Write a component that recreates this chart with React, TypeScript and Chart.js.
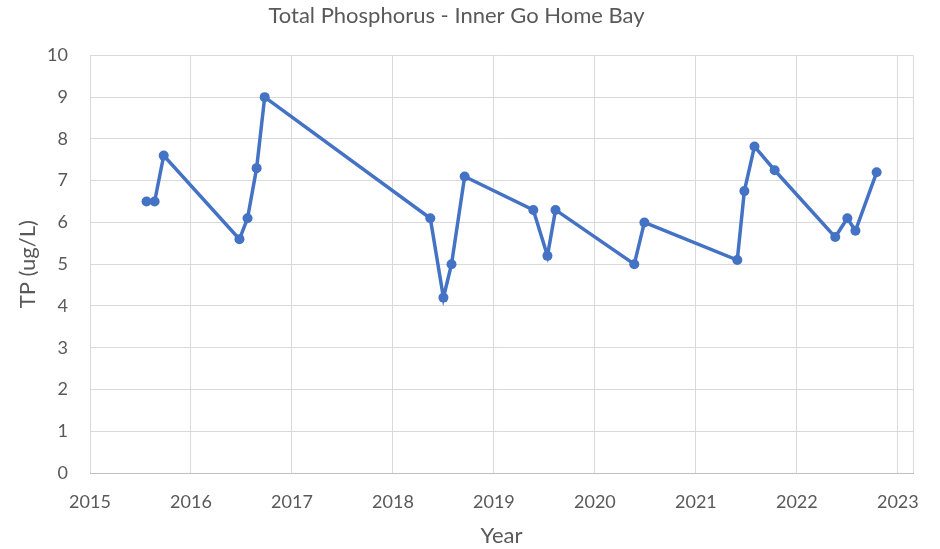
import React, { useEffect, useRef } from "react";
import { Chart, registerables } from "chart.js";

Chart.register(...registerables);

const years: number[] = [
  2015.56, 2015.64, 2015.73, 2016.48, 2016.56, 2016.65, 2016.73,
  2018.37, 2018.50, 2018.58, 2018.71, 2019.39, 2019.53, 2019.61,
  2020.39, 2020.49, 2021.41, 2021.48, 2021.58, 2021.78,
  2022.38, 2022.50, 2022.58, 2022.79,
];
const tpValues: number[] = [
  6.5, 6.5, 7.6, 5.6, 6.1, 7.3, 9.0,
  6.1, 4.2, 5.0, 7.1, 6.3, 5.2, 6.3,
  5.0, 6.0, 5.1, 6.75, 7.82, 7.25,
  5.65, 6.1, 5.8, 7.2,
];
const titleText = "Total Phosphorus - Inner Go Home Bay";
const xTitle = "Year";
const yTitle = "TP (ug/L)";
const xMin = 2015;
const xMax = 2023.15;
const yMin = 0;
const yMax = 10;

const FONT = "Lato, 'Open Sans', sans-serif";
const TEXT = "#595959";
const GRID = "#d9d9d9";
const LINE = "#4472C4";

const borderPlugin = {
  id: "plotBorder",
  afterDraw(chart: any) {
    const { ctx, chartArea } = chart;
    ctx.save();
    ctx.strokeStyle = GRID;
    ctx.lineWidth = 1;
    ctx.beginPath();
    ctx.moveTo(chartArea.right + 0.5, chartArea.top);
    ctx.lineTo(chartArea.right + 0.5, chartArea.bottom);
    ctx.stroke();
    ctx.strokeStyle = "#bfbfbf";
    ctx.beginPath();
    ctx.moveTo(chartArea.left, chartArea.bottom + 0.5);
    ctx.lineTo(chartArea.right + 1, chartArea.bottom + 0.5);
    ctx.stroke();
    ctx.restore();
  },
};

export default function App() {
  const ref = useRef<HTMLCanvasElement | null>(null);
  useEffect(() => {
    document.body.style.margin = "0";
    const data = years.map((x, i) => ({ x, y: tpValues[i] }));
    const chart = new Chart(ref.current!, {
      type: "scatter",
      data: {
        datasets: [
          {
            data,
            showLine: true,
            borderColor: LINE,
            backgroundColor: LINE,
            borderWidth: 3.5,
            pointRadius: 5,
            pointBorderWidth: 0,
            tension: 0,
          },
        ],
      },
      options: {
        animation: false,
        responsive: false,
        layout: { padding: { left: 0, right: 27, top: 0, bottom: 0 } },
        plugins: {
          legend: { display: false },
          tooltip: { enabled: false },
          title: {
            display: true,
            text: titleText,
            color: TEXT,
            font: { family: FONT, size: 22, weight: "normal" },
            padding: { top: 3, bottom: 26 },
          },
        },
        scales: {
          x: {
            type: "linear",
            min: xMin,
            max: xMax,
            grid: { color: GRID, drawTicks: false },
            border: { display: false },
            ticks: {
              stepSize: 1,
              includeBounds: false,
              color: TEXT,
              padding: 18,
              font: { family: FONT, size: 18 },
              callback: (v: any) => String(v),
            },
            title: {
              display: true,
              text: xTitle,
              color: TEXT,
              font: { family: FONT, size: 22 },
              padding: { top: 6, bottom: 0 },
            },
            afterFit: (s: any) => {
              s.height = 76;
            },
          },
          y: {
            type: "linear",
            min: yMin,
            max: yMax,
            grid: { color: GRID, drawTicks: false },
            border: { display: false },
            ticks: {
              stepSize: 1,
              color: TEXT,
              padding: 22,
              font: { family: FONT, size: 18 },
            },
            title: {
              display: true,
              text: yTitle,
              color: TEXT,
              font: { family: FONT, size: 22 },
              padding: { top: 15, bottom: 4 },
            },
            afterFit: (s: any) => {
              s.width = 90;
            },
          },
        },
      },
      plugins: [borderPlugin],
    });
    return () => chart.destroy();
  }, []);
  return (
    <div style={{ position: "fixed", left: 0, top: 0, width: 940, height: 549, background: "#fff" }}>
      <canvas ref={ref} width={940} height={549} style={{ width: 940, height: 549 }} />
    </div>
  );
}
